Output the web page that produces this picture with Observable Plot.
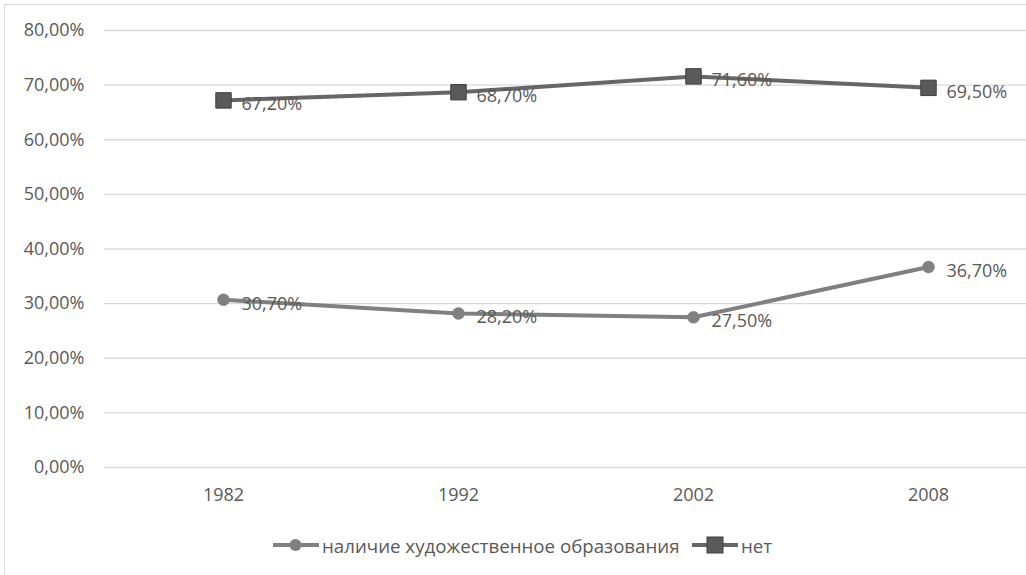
<!DOCTYPE html>
<html>
<head>
<meta charset="utf-8">
<script src="https://cdn.jsdelivr.net/npm/d3@7"></script>
<script src="https://cdn.jsdelivr.net/npm/@observablehq/plot@0.6"></script>
<style>
  html, body { margin: 0; padding: 0; background: #fff; overflow: hidden; }
  #wrap { position: relative; width: 1026px; height: 575px; font-family: "Open Sans", sans-serif; }
  #border { position: absolute; left: 4px; top: 4px; width: 1040px; height: 600px; border: 1px solid #d9d9d9; box-sizing: border-box; }
  #chart { position: absolute; left: 0; top: 0; }
  #legend { position: absolute; top: 533px; left: 0; width: 1026px; height: 24px; font-size: 18.7px; color: #595959; }
  .item { position: absolute; display: flex; align-items: center; height: 24px; }
  .item svg { display: block; }
</style>
</head>
<body>
<div id="wrap">
  <div id="border"></div>
  <div id="chart"></div>
  <div id="legend"></div>
</div>
<script>
const years = ["1982", "1992", "2002", "2008"];
const seriesNames = ["наличие художественное образования", "нет"];
const withEducation = [30.7, 28.2, 27.5, 36.7];
const noEducation = [67.2, 68.7, 71.6, 69.5];
const yTicks = [0, 10, 20, 30, 40, 50, 60, 70, 80];

const fmt = v => v.toFixed(2).replace(".", ",") + "%";

const rowsA = years.map((y, i) => ({year: y, value: withEducation[i]}));
const rowsB = years.map((y, i) => ({year: y, value: noEducation[i]}));

const colA = "#808080";
const colB = "#666666";
const fillB = "#5a5a5a";
const fs = 18;

const chart = Plot.plot({
  width: 1026,
  height: 520,
  marginLeft: 104,
  marginRight: -20,
  marginTop: 30,
  marginBottom: 53,
  style: {fontFamily: "Open Sans, sans-serif", fontSize: fs + "px", color: "#595959", background: "transparent"},
  x: {type: "point", domain: years, padding: 0.5, label: null},
  y: {domain: [0, 80], label: null},
  marks: [
    Plot.gridY(yTicks, {stroke: "#d9d9d9", strokeOpacity: 1, strokeWidth: 1.3}),
    Plot.axisY(yTicks, {tickSize: 0, tickPadding: 20, tickFormat: fmt, fill: "#595959", fontSize: fs, label: null}),
    Plot.axisX({tickSize: 0, tickPadding: 21, fill: "#595959", fontSize: fs, label: null}),
    Plot.line(rowsA, {x: "year", y: "value", stroke: colA, strokeWidth: 4}),
    Plot.line(rowsB, {x: "year", y: "value", stroke: colB, strokeWidth: 4}),
    Plot.dot(rowsA, {x: "year", y: "value", r: 6, fill: colA, stroke: colA, strokeWidth: 0.5}),
    Plot.dot(rowsB, {x: "year", y: "value", symbol: "square", r: 8.7, fill: fillB, stroke: "#3f3f3f", strokeWidth: 1}),
    Plot.text(rowsA, {x: "year", y: "value", text: d => fmt(d.value), dx: 18, dy: 4, textAnchor: "start", fill: "#595959", fontSize: fs}),
    Plot.text(rowsB, {x: "year", y: "value", text: d => fmt(d.value), dx: 18, dy: 4, textAnchor: "start", fill: "#595959", fontSize: fs})
  ]
});
document.getElementById("chart").appendChild(chart);

// legend
const legend = document.getElementById("legend");
function addItem(left, name, kind) {
  const div = document.createElement("div");
  div.className = "item";
  div.style.left = left + "px";
  const ns = "http://www.w3.org/2000/svg";
  const s = document.createElementNS(ns, "svg");
  s.setAttribute("width", 49);
  s.setAttribute("height", 24);
  const ln = document.createElementNS(ns, "line");
  ln.setAttribute("x1", 0); ln.setAttribute("x2", 46);
  ln.setAttribute("y1", 12); ln.setAttribute("y2", 12);
  ln.setAttribute("stroke", kind === "circle" ? colA : colB);
  ln.setAttribute("stroke-width", 4);
  s.appendChild(ln);
  if (kind === "circle") {
    const c = document.createElementNS(ns, "circle");
    c.setAttribute("cx", 22.5); c.setAttribute("cy", 12); c.setAttribute("r", 6);
    c.setAttribute("fill", colA);
    s.appendChild(c);
  } else {
    const r = document.createElementNS(ns, "rect");
    r.setAttribute("x", 15); r.setAttribute("y", 4); r.setAttribute("width", 16); r.setAttribute("height", 16);
    r.setAttribute("fill", fillB); r.setAttribute("stroke", "#3f3f3f");
    s.appendChild(r);
  }
  div.appendChild(s);
  const t = document.createElement("span");
  t.textContent = name;
  div.appendChild(t);
  legend.appendChild(div);
}
addItem(273, seriesNames[0], "circle");
addItem(692, seriesNames[1], "square");
</script>
</body>
</html>
